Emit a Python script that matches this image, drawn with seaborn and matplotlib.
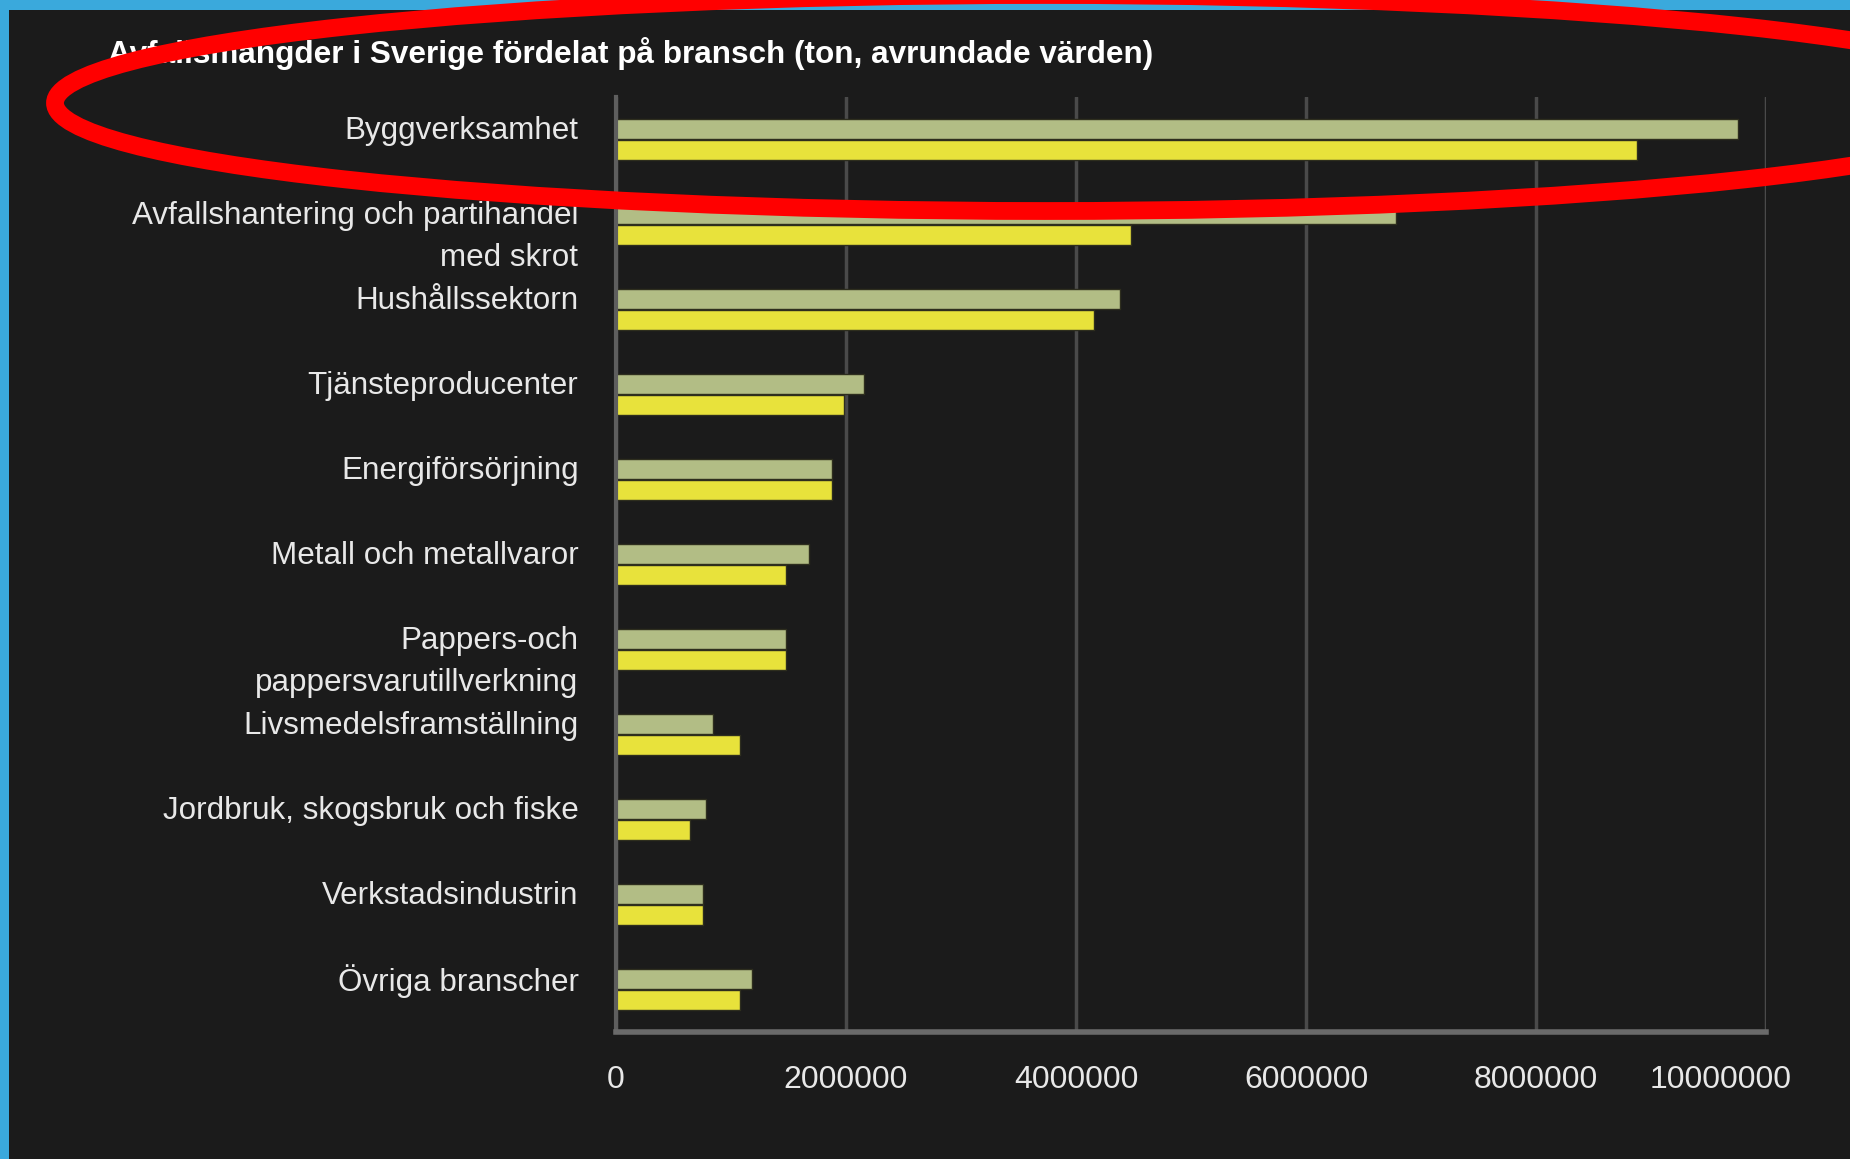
import numpy as np
import pandas as pd
import seaborn as sns
import matplotlib
matplotlib.use("Agg")
import matplotlib.pyplot as plt
from matplotlib.patches import Ellipse, Rectangle
from matplotlib.transforms import ScaledTranslation

# ---- data ----
categories = [
    "Byggverksamhet",
    "Avfallshantering och partihandel\nmed skrot",
    "Hushållssektorn",
    "Tjänsteproducenter",
    "Energiförsörjning",
    "Metall och metallvaror",
    "Pappers-och\npappersvarutillverkning",
    "Livsmedelsframställning",
    "Jordbruk, skogsbruk och fiske",
    "Verkstadsindustrin",
    "Övriga branscher",
]
series_names = ["Serie 1", "Serie 2"]
values_s1 = [9760000, 6780000, 4380000, 2160000, 1880000, 1680000, 1480000, 840000, 780000, 760000, 1180000]
values_s2 = [8880000, 4480000, 4160000, 1980000, 1880000, 1480000, 1480000, 1080000, 640000, 760000, 1080000]
xticks = [0, 2000000, 4000000, 6000000, 8000000, 10000000]
xtick_labels = ["0", "2000000", "4000000", "6000000", "8000000", "10000000"]
title = "Avfallsmängder i Sverige fördelat på bransch (ton, avrundade värden)"

df = pd.DataFrame({
    "bransch": categories * 2,
    "serie": [series_names[0]] * len(categories) + [series_names[1]] * len(categories),
    "ton": values_s1 + values_s2,
})

# ---- style ----
BG = "#1b1b1b"
GREEN = "#b2bd85"
YELLOW = "#e8e23b"
TXT = "#e8e8e8"

sns.set_theme(style="dark")
plt.rcParams["font.family"] = ["Liberation Sans", "DejaVu Sans"]

W, H = 1850, 1159
fig = plt.figure(figsize=(W / 100, H / 100), dpi=100, facecolor=BG)
ax = fig.add_axes([616 / W, 1 - 1032 / H, 1150 / W, 935 / H])
ax.set_facecolor(BG)

sns.barplot(
    data=df, y="bransch", x="ton", hue="serie", orient="h",
    palette=[GREEN, YELLOW], saturation=1, width=0.5, gap=0.08,
    edgecolor="#2e2e1e", linewidth=1, errorbar=None, legend=False, ax=ax,
)

ax.set_xlim(0, 10000000)
ax.set_ylim(len(categories) - 0.5, -0.5)
ax.set_xticks(xticks)
ax.set_xticklabels(xtick_labels)
ax.set_xlabel("")
ax.set_ylabel("")

ax.xaxis.grid(True, color="#4a4a4a", linewidth=2.5)
ax.yaxis.grid(False)
ax.set_axisbelow(True)

for s in ["top", "right"]:
    ax.spines[s].set_visible(False)
ax.spines["left"].set_color("#5e5e5e")
ax.spines["left"].set_linewidth(3)
ax.spines["bottom"].set_color("#6a6a6a")
ax.spines["bottom"].set_linewidth(4)

ax.tick_params(axis="x", length=0, pad=24, labelsize=23, labelcolor=TXT)
ax.tick_params(axis="y", length=0, pad=27, labelsize=22.6, labelcolor=TXT)

# first line of each label sits slightly above the category centre
for lab in ax.get_yticklabels():
    lab.set_linespacing(1.5)
    nlines = lab.get_text().count("\n") + 1
    dy = 12 if nlines == 1 else -3
    lab.set_transform(lab.get_transform() + ScaledTranslation(0, dy / 100, fig.dpi_scale_trans))

# last x label nudged left to stay inside chart area
last = ax.get_xticklabels()[-1]
last.set_transform(last.get_transform() + ScaledTranslation(-45 / 100, 0, fig.dpi_scale_trans))

fig.text(108 / W, 1 - 54 / H, title, ha="left", va="center",
         fontsize=22.7, fontweight="bold", color="white")

# blue frame (top & left)
fig.add_artist(Rectangle((0, 1 - 9.5 / H), 1, 9.5 / H, transform=fig.transFigure,
                         facecolor="#3aa9dc", edgecolor="none", zorder=5))
fig.add_artist(Rectangle((0, 0), 9 / W, 1, transform=fig.transFigure,
                         facecolor="#3aa9dc", edgecolor="none", zorder=5))

# red highlight ellipse
fig.add_artist(Ellipse((1045 / W, 1 - 103 / H), 1980 / W, 216 / H,
                       transform=fig.transFigure, fill=False,
                       edgecolor="#ff0000", linewidth=12.8, zorder=10))

fig.savefig("out.png", dpi=100, facecolor=BG)
